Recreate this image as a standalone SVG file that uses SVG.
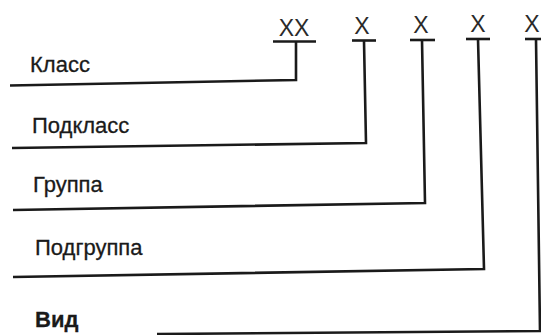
<svg xmlns="http://www.w3.org/2000/svg" width="541" height="335" viewBox="0 0 541 335">
<style>
.lbl{font-family:"Liberation Sans",Arial,sans-serif;font-size:22px;fill:#1a1a1a;stroke:#1a1a1a;stroke-width:0.3}
.b{font-weight:bold}
.x{font-family:"Liberation Sans",Arial,sans-serif;font-size:23px;fill:#2a2a2a;text-anchor:middle}
.ln{fill:none;stroke:#1a1a1a;stroke-width:2.6;stroke-linejoin:miter}
.bar{stroke:#1a1a1a;stroke-width:2.6}
</style>
<rect width="541" height="335" fill="#fff"/>
<g id="codes">
<g id="code-xx"><text class="x" x="294" y="36">XX</text><line class="bar" x1="273" y1="41.5" x2="316" y2="41.5"/></g>
<g id="code-x2"><text class="x" x="362" y="34">X</text><line class="bar" x1="352" y1="40.5" x2="376" y2="40.5"/></g>
<g id="code-x3"><text class="x" x="421" y="33">X</text><line class="bar" x1="410" y1="40" x2="435" y2="40"/></g>
<g id="code-x4"><text class="x" x="478" y="32">X</text><line class="bar" x1="466" y1="39" x2="490" y2="39"/></g>
<g id="code-x5"><text class="x" x="532" y="32">X</text><line class="bar" x1="525" y1="39" x2="545" y2="39"/></g>
</g>
<g id="labels">
<g id="klass"><text class="lbl" x="30" y="72">Класс</text></g>
<g id="podklass"><text class="lbl" x="32" y="133">Подкласс</text></g>
<g id="gruppa"><text class="lbl" x="33" y="192">Группа</text></g>
<g id="podgruppa"><text class="lbl" x="35" y="255">Подгруппа</text></g>
<g id="vid"><text class="lbl b" x="35" y="327">Вид</text></g>
</g>
<g id="connectors">
<polyline class="ln" points="10,85.5 296,80 296,42"/>
<polyline class="ln" points="12,148 366,143 364,41"/>
<polyline class="ln" points="13,210 425,203 422,40"/>
<polyline class="ln" points="13,277 484,269 478,39"/>
<polyline class="ln" points="157,334 540,331 536,39"/>
</g>
</svg>
